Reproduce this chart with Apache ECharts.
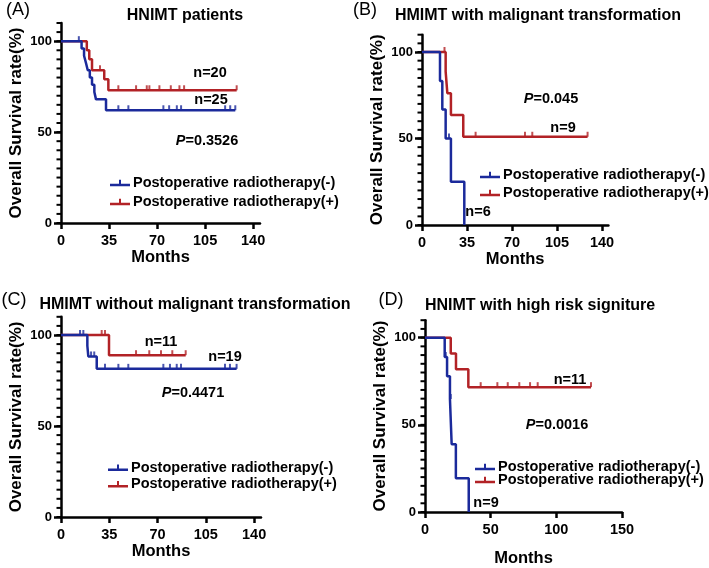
<!DOCTYPE html>
<html><head><meta charset="utf-8">
<script src="https://cdn.jsdelivr.net/npm/echarts@6/dist/echarts.min.js"></script>
<style>html,body{margin:0;padding:0;background:#fff}#c{width:709px;height:568px}</style>
</head><body><div id="c"></div>
<script>
// ---------- DATA ----------
const NEG = 'Postoperative radiotherapy(-)';
const POS = 'Postoperative radiotherapy(+)';
const xTicksA = [0, 35, 70, 105, 140];
const xTicksD = [0, 50, 100, 150];
const yTicks = [0, 50, 100];
const yMinorTicks = [0, 5, 10, 15, 20, 25, 30, 35, 40, 45, 50, 55, 60, 65, 70, 75, 80, 85, 90, 95, 100, 105, 110];

// Panel A: HNIMT patients
const aNegT = [0, 15, 16.8, 18.2, 19.5, 21, 22.6, 24.3, 25.5, 32.8, 127];
const aNegS = [100, 96, 92, 88, 84, 80, 76, 72, 68, 62, 62];
const aNegCensT = [13, 41.8, 49.1, 74.6, 78.8, 84.4, 87.5, 119.6, 123.3, 127];
const aNegCensS = [100, 62, 62, 62, 62, 62, 62, 62, 62, 62];
const aPosT = [0, 18.8, 20.6, 22.6, 31.5, 34.5, 128];
const aPosS = [100, 95, 90, 84, 79, 73, 73];
const aPosCensT = [28.4, 41.8, 54.7, 62.5, 64.4, 71.7, 80, 86.3, 89.7, 128];
const aPosCensS = [84, 73, 73, 73, 73, 73, 73, 73, 73, 73];

// Panel B: HMIMT with malignant transformation
const bNegT = [0, 14, 15.8, 18.4, 22.5, 32.9];
const bNegS = [100, 83.3, 66.7, 50, 25, 0];
const bNegCensT = [21];
const bNegCensS = [50];
const bPosT = [0, 18.4, 19.7, 22.5, 32.1, 128.8];
const bPosS = [100, 88.6, 76.2, 63.6, 51, 51];
const bPosCensT = [17.5, 41.7, 80.1, 85.8, 128.8];
const bPosCensS = [100, 51, 51, 51, 51];

// Panel C: HMIMT without malignant transformation
const cNegT = [0, 19.1, 19.8, 25.9, 127.3];
const cNegS = [100, 94.1, 88.2, 81.4, 81.4];
const cNegCensT = [13.8, 16.2, 21.8, 24.1, 31.9, 41.6, 48.8, 74.2, 79, 83.9, 87, 118.9, 122.5, 127.3];
const cNegCensS = [100, 100, 88.2, 88.2, 81.4, 81.4, 81.4, 81.4, 81.4, 81.4, 81.4, 81.4, 81.4, 81.4];
const cPosT = [0, 34.8, 90.4];
const cPosS = [100, 88.9, 88.9];
const cPosCensT = [29.5, 31.9, 54.4, 64, 72.5, 80.7, 90.4];
const cPosCensS = [100, 100, 88.9, 88.9, 88.9, 88.9, 88.9];

// Panel D: HNIMT with high risk signiture
const dNegT = [0, 15, 16.8, 19, 20.3, 23.5, 33.3];
const dNegS = [100, 88.9, 77.8, 64.8, 38.9, 19.4, 0];
const dNegCensT = [15.8, 19.6];
const dNegCensS = [88.9, 64.8];
const dPosT = [0, 19.6, 23.6, 33, 126.4];
const dPosS = [100, 90.9, 81.8, 71.6, 71.6];
const dPosCensT = [42.4, 55.1, 63, 71.8, 80, 85.8, 126.4];
const dPosCensS = [71.6, 71.6, 71.6, 71.6, 71.6, 71.6, 71.6];

// ---------- STYLE / LAYOUT ----------
const BLUE = '#1b2a9b';
const RED = '#b22226';
const FF = '"Liberation Sans", Arial, sans-serif';

const zip = (a, b) => a.map((v, i) => [v, b[i]]);

const panels = [
  { grid: {left: 61, top: 23, width: 199, height: 200}, xmax: 145, xt: xTicksA, xGap: 26,
    neg: [aNegT, aNegS, aNegCensT, aNegCensS], pos: [aPosT, aPosS, aPosCensT, aPosCensS],
    leg: {left: 110, r1: 183, r2: 202} },
  { grid: {left: 422, top: 34.7, width: 186.4, height: 190.3}, xmax: 145, xt: xTicksA, xGap: 26,
    neg: [bNegT, bNegS, bNegCensT, bNegCensS], pos: [bPosT, bPosS, bPosCensT, bPosCensS],
    leg: {left: 480, r1: 175, r2: 193} },
  { grid: {left: 61, top: 316.8, width: 200, height: 200.2}, xmax: 145, xt: xTicksA, xGap: 26,
    neg: [cNegT, cNegS, cNegCensT, cNegCensS], pos: [cPosT, cPosS, cPosCensT, cPosCensS],
    leg: {left: 108, r1: 467.7, r2: 484.3} },
  { grid: {left: 425, top: 320.2, width: 197, height: 195.8}, xmax: 150, xt: xTicksD, xGap: 38,
    neg: [dNegT, dNegS, dNegCensT, dNegCensS], pos: [dPosT, dPosS, dPosCensT, dPosCensS],
    leg: {left: 475, r1: 467, r2: 480} }
];

const grid = [], xAxis = [], yAxis = [], series = [], legend = [];
const legendIcon = 'path://M0,6L20,6L20,8.5L0,8.5Z M9,2L11,2L11,7L9,7Z';

panels.forEach((p, i) => {
  grid.push(Object.assign({containLabel: false}, p.grid));
  xAxis.push({
    gridIndex: i, type: 'value', min: 0, max: p.xmax,
    axisLine: {show: true, lineStyle: {color: '#000', width: 2.5}},
    axisTick: {show: true, customValues: p.xt, length: 6, lineStyle: {color: '#000', width: 2.5}},
    axisLabel: {customValues: p.xt, color: '#000', fontFamily: FF, fontWeight: 'bold', fontSize: 14.5, margin: 10},
    splitLine: {show: false},
    name: 'Months', nameLocation: 'middle', nameGap: p.xGap,
    nameTextStyle: {color: '#000', fontFamily: FF, fontWeight: 'bold', fontSize: 16.5}
  });
  yAxis.push({
    gridIndex: i, type: 'value', min: 0, max: 110,
    axisLine: {show: true, lineStyle: {color: '#000', width: 2.5}},
    axisTick: {show: true, customValues: yTicks, length: 7, lineStyle: {color: '#000', width: 2.5}},
    axisLabel: {customValues: yTicks, color: '#000', fontFamily: FF, fontWeight: 'bold', fontSize: 13, margin: 9},
    splitLine: {show: false},
    name: 'Overall Survival rate(%)', nameLocation: 'middle', nameGap: 36,
    nameTextStyle: {color: '#000', fontFamily: FF, fontWeight: 'bold', fontSize: 17}
  });
  // short minor ticks every 5 %, positioned through the y scale
  series.push({
    type: 'custom', name: 'minorTicks' + i, xAxisIndex: i, yAxisIndex: i, silent: true, clip: false,
    data: yMinorTicks.map(v => [0, v]),
    renderItem: (params, api) => {
      const pt = api.coord([api.value(0), api.value(1)]);
      return {type: 'line', shape: {x1: pt[0] - 4.5, y1: pt[1], x2: pt[0], y2: pt[1]},
              style: {stroke: '#000', lineWidth: 2}};
    },
    animation: false
  });
  const mk = (name, d, color) => {
    series.push({
      type: 'line', name: name, xAxisIndex: i, yAxisIndex: i,
      data: zip(d[0], d[1]), step: 'end', symbol: 'none', showSymbol: false,
      lineStyle: {color: color, width: 2.5}, itemStyle: {color: color},
      z: name === NEG ? 4 : 3, animation: false, silent: true
    });
    series.push({
      type: 'scatter', name: name + ' censored', xAxisIndex: i, yAxisIndex: i,
      data: zip(d[2], d[3]), symbol: 'rect', symbolSize: [2, 5], symbolOffset: [0, -2.5],
      itemStyle: {color: color}, z: name === NEG ? 4 : 3, animation: false, silent: true
    });
  };
  mk(POS, p.pos, RED);
  mk(NEG, p.neg, BLUE);
  [[NEG, p.leg.r1], [POS, p.leg.r2]].forEach(([nm, cy]) => {
    legend.push({
      data: [{name: nm, icon: legendIcon}], left: p.leg.left, top: cy - 8, padding: 0,
      itemWidth: 20, itemHeight: 9, selectedMode: false,
      textStyle: {color: '#000', fontFamily: FF, fontWeight: 'bold', fontSize: 14.5, lineHeight: 16, padding: [0, 0, 0, -2]}
    });
  });
});

const txt = (x, y, text, font) => ({
  type: 'text', x: x, y: y, silent: true,
  style: {text: text, font: font, fill: '#000', align: 'center', verticalAlign: 'middle',
          textAlign: 'center', textVerticalAlign: 'middle'}
});
const pTxt = (x, y, val) => ({
  type: 'text', x: x, y: y, silent: true,
  style: {text: '{i|P}{b|=' + val + '}', fill: '#000', align: 'center', verticalAlign: 'middle',
          textAlign: 'center', textVerticalAlign: 'middle', font: 'bold 14.5px ' + FF,
          rich: {i: {font: 'italic bold 14.5px ' + FF, fill: '#000'}, b: {font: 'bold 14.5px ' + FF, fill: '#000'}}}
});
const TF = 'bold 16px ' + FF;
const LF = '18px ' + FF;
const NF = 'bold 14.5px ' + FF;
const graphic = [
  txt(18, 10, '(A)', LF), txt(185, 16, 'HNIMT patients', TF),
  txt(210, 73, 'n=20', NF), txt(211, 100, 'n=25', NF), pTxt(207, 141, '0.3526'),
  txt(365, 10, '(B)', LF), txt(538, 16, 'HMIMT with malignant transformation', TF),
  pTxt(551, 99, '0.045'), txt(563, 128, 'n=9', NF), txt(478, 212, 'n=6', NF),
  txt(14, 300, '(C)', LF), txt(195, 305, 'HMIMT without malignant transformation', TF),
  txt(161, 342, 'n=11', NF), txt(225, 357, 'n=19', NF), pTxt(193, 393, '0.4471'),
  txt(391, 300, '(D)', LF), txt(540, 306, 'HNIMT with high risk signiture', TF),
  txt(570, 380, 'n=11', NF), pTxt(557, 425, '0.0016'), txt(486, 503, 'n=9', NF)
];

const chart = echarts.init(document.getElementById('c'), null, {renderer: 'canvas'});
chart.setOption({
  animation: false, backgroundColor: '#fff',
  grid: grid, xAxis: xAxis, yAxis: yAxis, series: series, legend: legend, graphic: graphic
});
</script></body></html>
